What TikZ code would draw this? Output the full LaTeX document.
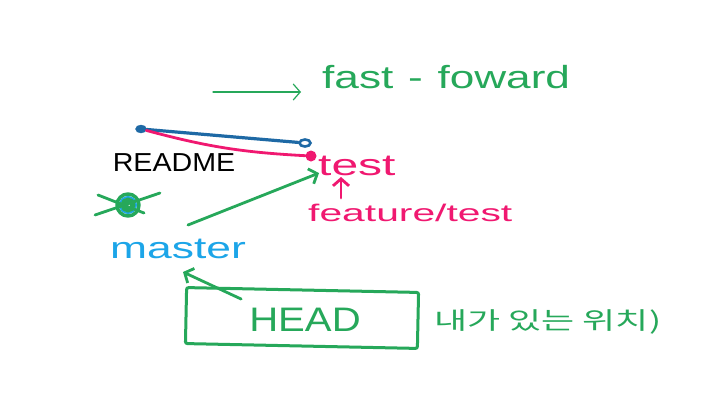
\documentclass[tikz,border=0pt]{standalone}
\usepackage{fontspec}
\setmainfont{Liberation Sans}
\newfontfamily\krfont{Noto Sans CJK KR}
\usetikzlibrary{arrows.meta,shapes.geometric}
\definecolor{pengreen}{RGB}{38,168,90}
\definecolor{penpink}{RGB}{240,24,112}
\definecolor{penblue}{RGB}{30,105,165}
\definecolor{pensky}{RGB}{28,165,232}
\newcommand{\wide}[2]{\scalebox{#1}[1]{#2}}
\tikzset{
	pen/.style={line width=2.8pt, line cap=round, line join=round},
	penarrow/.style={pen, -{Straight Barb[length=7pt,width=16pt]}},
	hand/.style={inner sep=0pt, font=\fontsize{#1}{#1}\selectfont},
	hand/.default=24
}
\begin{document}
\begin{tikzpicture}[x=1pt, y=-1pt]
			%%%%% START %%%%%
			
			\useasboundingbox[fill=white] (0, 0) rectangle (704, 415);
			
			% title
			\coordinate (ffstart) at (213, 92);
			\coordinate (ffend) at (301, 92);
			\draw[penarrow, pengreen, line width=1.2pt] (ffstart) -- (ffend);
			\node[hand=32, pengreen, anchor=west] (ff) at (322, 77) {\wide{1.38}{fast\,\,-\,\,foward}};
			
			% commits
			\node[ellipse, fill=penblue, draw=penblue, minimum width=11pt, minimum height=8pt, inner sep=0pt] (c1) at (141, 129) {};
			\node[ellipse, draw=penblue, line width=2.6pt, minimum width=11pt, minimum height=7pt, inner sep=0pt] (c2) at (305, 143) {};
			\node[circle, fill=penpink, minimum size=11pt, inner sep=0pt] (c3) at (311, 156) {};
			\draw[pen, penblue, line width=3.2pt] (c1) -- (c2);
			\draw[pen, penpink] (c1) to[bend right=6] (c3);
			
			\node[hand=26, black] (readme) at (174, 163) {\wide{1.1}{README}};
			\node[hand=30, penpink, anchor=west] (test) at (318, 166) {\wide{1.6}{test}};
			\node[hand=24, penpink, anchor=west] (feature) at (308, 213) {\wide{1.7}{feature/test}};
			\coordinate (upbase) at (341, 198);
			\coordinate (uptip) at (341, 177);
			\draw[penarrow, penpink] (upbase) -- (uptip);
			
			% old master (crossed out)
			\node[circle, draw=pensky, line width=2pt, minimum size=16pt, inner sep=0pt] (old) at (128, 205) {};
			\draw[pen, pengreen, line width=5pt] (old.center) circle (5);
			\draw[pen, pengreen, line width=3.5pt] (old.center) circle (11);
			\draw[pen, pengreen] ([shift={(-33,10)}]old.center) -- ([shift={(32,-12)}]old.center);
			\draw[pen, pengreen] ([shift={(-30,-10)}]old.center) -- ([shift={(16,8)}]old.center);
			
			\node[hand=30, pensky, anchor=west] (master) at (110, 249) {\wide{1.48}{master}};
			\coordinate (mtail) at (188, 225);
			\draw[penarrow, pengreen] (mtail) -- ([shift={(1,-3)}]test.south west);
			
			% HEAD
			\node[draw=pengreen, line width=3pt, rounded corners=2pt, minimum width=232pt, minimum height=56pt, rotate=-1.2] (head) at (302, 318) {};
			\node[hand=34, pengreen] (headtxt) at (305, 320) {\wide{1.18}{HEAD}};
			\coordinate (mtip) at (183, 272);
			\draw[penarrow, pengreen] ([shift={(56,13)}]head.north west) -- (mtip);
			\node[pengreen, anchor=west, inner sep=0pt, font=\krfont\fontsize{24}{24}\selectfont] (where) at (434, 322) {\wide{1.5}{내가 있는 위치)}};
			
			%%%%% END %%%%%
		\end{tikzpicture}
\end{document}
